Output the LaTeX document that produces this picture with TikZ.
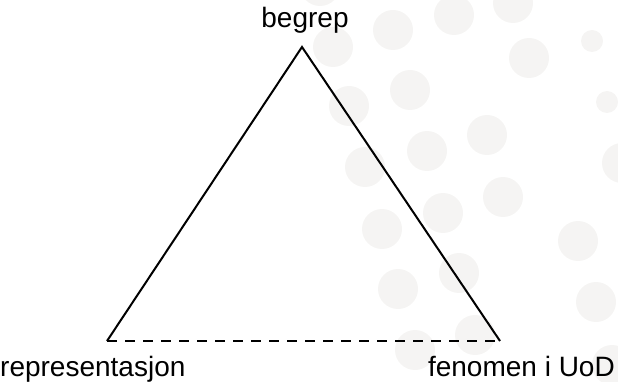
\documentclass[tikz,border=0pt]{standalone}
\usepackage{fontspec}
\setmainfont{Liberation Sans}
\usepackage{tikz}
\usetikzlibrary{positioning}
\definecolor{dotgray}{HTML}{F5F4F3}

\begin{document}
\begin{tikzpicture}[
    x=1pt, y=-1pt,
    bgdot/.style={fill=dotgray, draw=none},
    side/.style={line width=2pt, line join=miter},
    gap/.style={line width=2pt, dash pattern=on 10pt off 8pt},
    lbl/.style={inner sep=0pt, font=\fontsize{28}{32}\selectfont}
]
\useasboundingbox (0,0) rectangle (618,382);
\clip (0,0) rectangle (618,382);

% background dots
\foreach \cx/\cy/\r in {320/-14/20, 333/47/20, 393/30/20, 454/15/20, 513/3/20,
    592/41/11, 529/58/20, 410/90/20, 349/106/20, 607/102/11, 487/135/20,
    427/151/20, 365/167/20, 622/163/20, 503/197/20, 443/213/20, 382/229/20,
    578/241/20, 459/273/20, 398/289/20, 596/302/20, 475/335/20, 415/350/20,
    612/365/20, 492/425/20}
    \fill[bgdot] (\cx,\cy) circle (\r);

\coordinate (top) at (302,47);
\coordinate (left) at (107,341);
\coordinate (right) at (500,341);

\node[lbl, anchor=base] (begrep) at (305,28) {begrep};
\node[lbl, anchor=base west] (repr) at (0,376) {representasjon};
\node[lbl, anchor=base east] (fenomen) at (615,376) {fenomen i UoD};

\draw[side] (left) -- (top) -- (right);
\draw[gap] (left) -- (right);
\end{tikzpicture}
\end{document}
